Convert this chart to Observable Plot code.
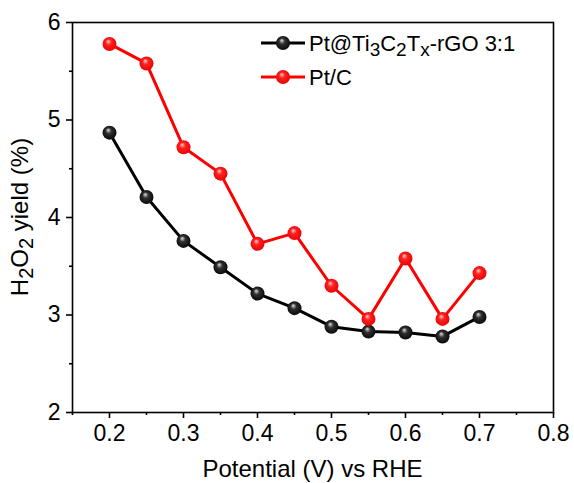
<!DOCTYPE html>
<html>
<head>
<meta charset="utf-8">
<script src="https://cdn.jsdelivr.net/npm/d3@7"></script>
<script src="https://cdn.jsdelivr.net/npm/@observablehq/plot@0.6"></script>
<style>
  html, body { margin: 0; padding: 0; background: #fff; }
  #chart svg { display: block; font-family: "Liberation Sans", Arial, sans-serif; }
</style>
</head>
<body>
<div id="chart"></div>
<script>
const potential = [0.2, 0.25, 0.3, 0.35, 0.4, 0.45, 0.5, 0.55, 0.6, 0.65, 0.7];
const ptTiYield = [4.87, 4.21, 3.76, 3.49, 3.22, 3.07, 2.88, 2.83, 2.82, 2.78, 2.98];
const ptCYield = [5.78, 5.58, 4.72, 4.45, 3.73, 3.84, 3.30, 2.96, 3.58, 2.96, 3.43];
const seriesNames = ["Pt@Ti3C2Tx-rGO 3:1", "Pt/C"];
const xMajorTicks = [0.2, 0.3, 0.4, 0.5, 0.6, 0.7, 0.8];
const xMinorTicks = [0.15, 0.25, 0.35, 0.45, 0.55, 0.65, 0.75];
const yMajorTicks = [2, 3, 4, 5, 6];
const yMinorTicks = [2.5, 3.5, 4.5, 5.5];

const black = potential.map((x, i) => ({x, y: ptTiYield[i]}));
const red = potential.map((x, i) => ({x, y: ptCYield[i]}));

const plot = Plot.plot({
  width: 574,
  height: 483,
  marginLeft: 72,
  marginRight: 21,
  marginTop: 22,
  marginBottom: 71,
  style: {fontFamily: "Liberation Sans, Arial, sans-serif", color: "#000", background: "#fff"},
  x: {domain: [0.15, 0.8]},
  y: {domain: [2, 6]},
  marks: [
    Plot.frame({stroke: "#000", strokeWidth: 1.6}),
    Plot.axisX({ticks: xMajorTicks, tickSize: 6, tickPadding: 6, fontSize: 23, strokeWidth: 1.6, label: null, tickFormat: d => d.toFixed(1)}),
    Plot.axisX({ticks: xMinorTicks, tickSize: 3, strokeWidth: 1.6, label: null, tickFormat: () => ""}),
    Plot.axisY({ticks: yMajorTicks, tickSize: 6, tickPadding: 6, fontSize: 23, strokeWidth: 1.6, label: null, tickFormat: d => String(d)}),
    Plot.axisY({ticks: yMinorTicks, tickSize: 3, strokeWidth: 1.6, label: null, tickFormat: () => ""}),
    Plot.line(black, {x: "x", y: "y", stroke: "#000", strokeWidth: 3}),
    Plot.dot(black, {x: "x", y: "y", r: 7, fill: "url(#gk)", stroke: "none"}),
    Plot.line(red, {x: "x", y: "y", stroke: "#ff0000", strokeWidth: 3}),
    Plot.dot(red, {x: "x", y: "y", r: 7, fill: "url(#gr)", stroke: "none"})
  ]
});

const svg = d3.select(plot);
const defs = svg.insert("defs", ":first-child");
function grad(id, hi, mid, lo) {
  const g = defs.append("radialGradient").attr("id", id)
    .attr("cx", "0.5").attr("cy", "0.5").attr("r", "0.6")
    .attr("fx", "0.4").attr("fy", "0.3");
  g.append("stop").attr("offset", "0%").attr("stop-color", hi);
  g.append("stop").attr("offset", "35%").attr("stop-color", mid);
  g.append("stop").attr("offset", "100%").attr("stop-color", lo);
}
grad("gk", "#e0e0e0", "#303030", "#000000");
grad("gr", "#ffd0d0", "#ff2020", "#e00000");

// Axis titles
svg.append("text")
  .attr("x", (72 + 553) / 2).attr("y", 477)
  .attr("text-anchor", "middle")
  .attr("font-size", 24).attr("fill", "#000")
  .text("Potential (V) vs RHE");

const yt = svg.append("text")
  .attr("transform", `translate(28,${(22 + 412) / 2}) rotate(-90)`)
  .attr("text-anchor", "middle")
  .attr("font-size", 24).attr("fill", "#000");
yt.append("tspan").text("H");
yt.append("tspan").attr("font-size", 20).attr("dy", 5).text("2");
yt.append("tspan").attr("dy", -5).text("O");
yt.append("tspan").attr("font-size", 20).attr("dy", 5).text("2");
yt.append("tspan").attr("dy", -5).text(" yield (%)");

// Legend
const legend = svg.append("g").attr("font-size", 22).attr("fill", "#000").attr("text-anchor", "start");
const entries = [
  {y: 43, color: "#000", grad: "gk"},
  {y: 77, color: "#ff0000", grad: "gr"}
];
entries.forEach((e, i) => {
  legend.append("line").attr("x1", 261).attr("x2", 305).attr("y1", e.y).attr("y2", e.y)
    .attr("stroke", e.color).attr("stroke-width", 3);
  legend.append("circle").attr("cx", 283).attr("cy", e.y).attr("r", 7).attr("fill", `url(#${e.grad})`);
  const t = legend.append("text").attr("x", 309).attr("y", e.y + 8).attr("text-anchor", "start");
  if (i === 0) {
    t.append("tspan").text("Pt@Ti");
    t.append("tspan").attr("font-size", 19).attr("dy", 5).text("3");
    t.append("tspan").attr("dy", -5).text("C");
    t.append("tspan").attr("font-size", 19).attr("dy", 5).text("2");
    t.append("tspan").attr("dy", -5).text("T");
    t.append("tspan").attr("font-size", 19).attr("dy", 5).text("x");
    t.append("tspan").attr("dy", -5).text("-rGO 3:1");
  } else {
    t.text(seriesNames[1]);
  }
});

document.getElementById("chart").appendChild(plot);
</script>
</body>
</html>
